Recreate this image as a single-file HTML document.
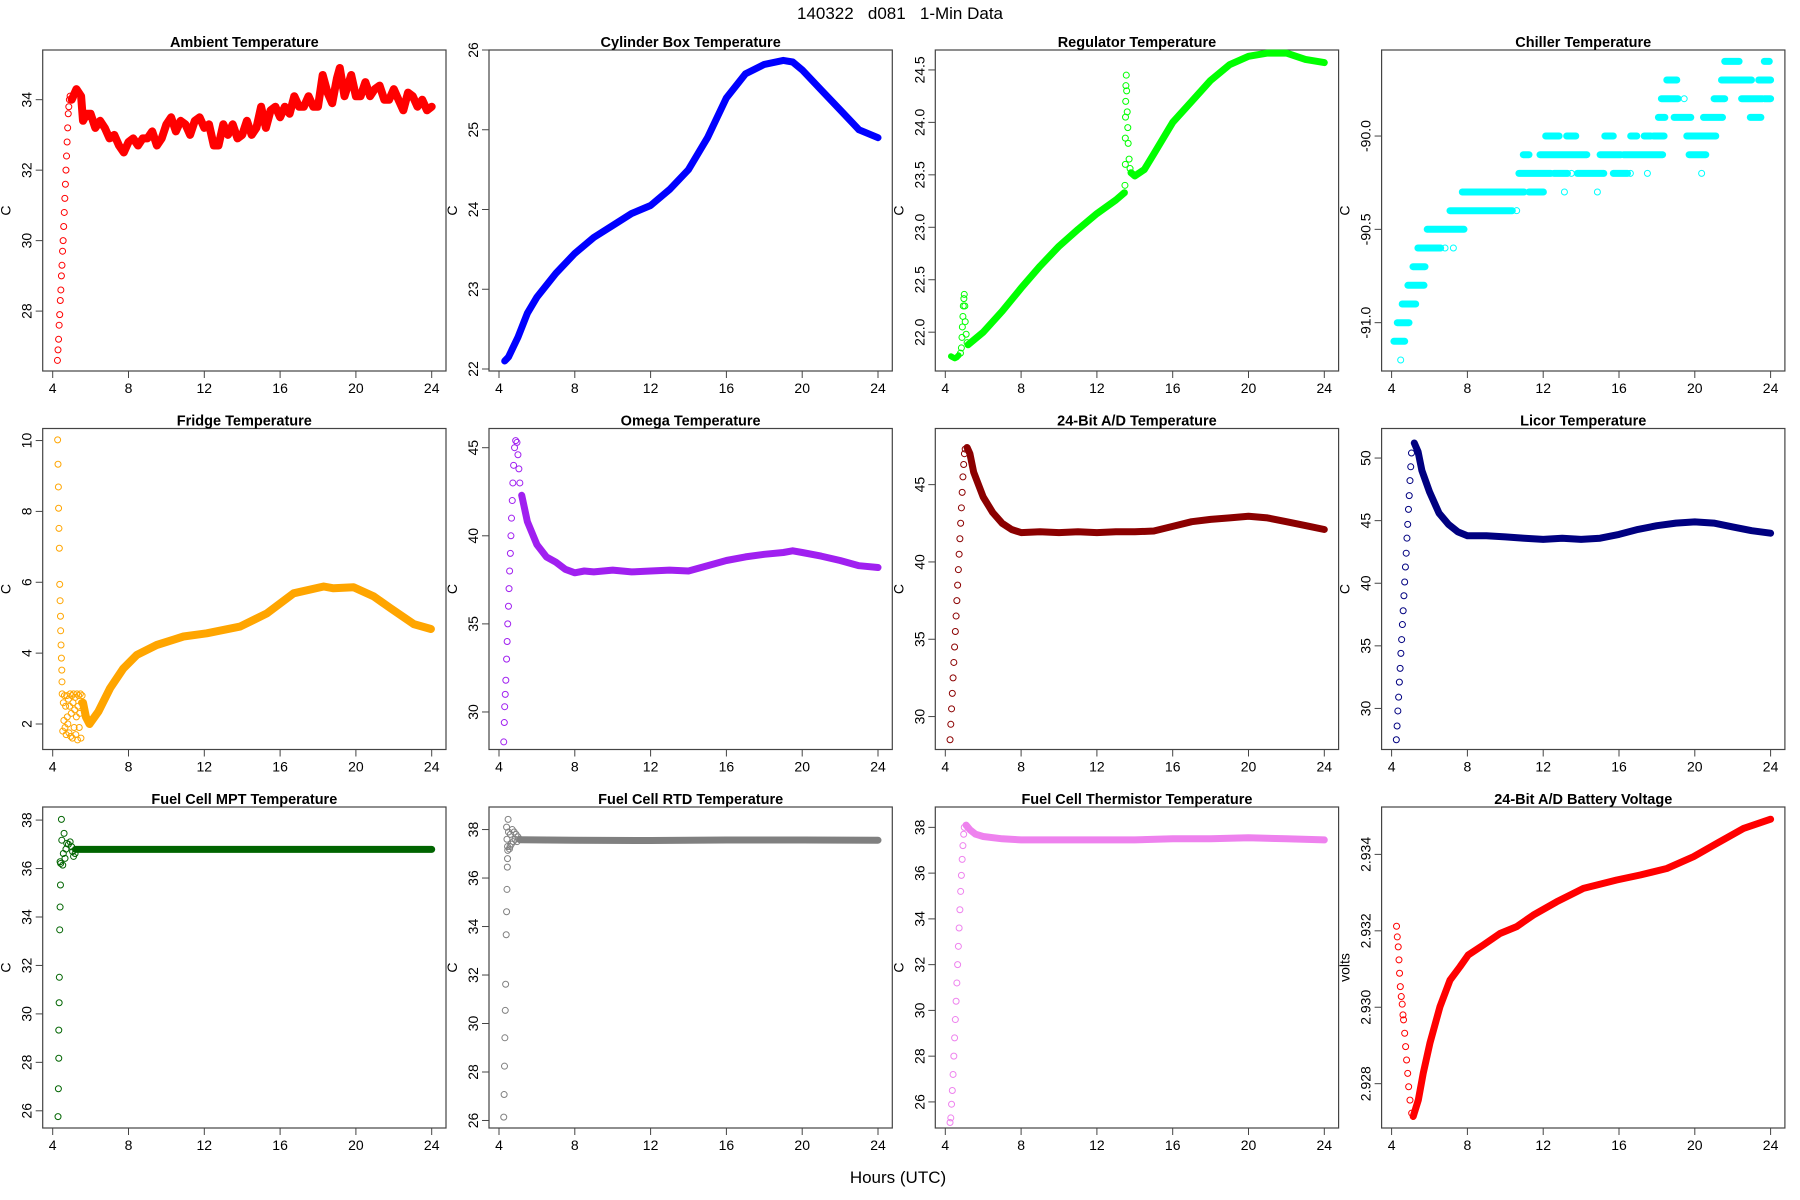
<!DOCTYPE html>
<html><head><meta charset="utf-8"><title>140322 d081 1-Min Data</title>
<style>
html,body{margin:0;padding:0;background:#fff;}
svg{display:block;font-family:"Liberation Sans",sans-serif;}
</style></head>
<body>
<svg id="chart" width="1800" height="1200" viewBox="0 0 1800 1200" xmlns="http://www.w3.org/2000/svg">
<text x="900" y="19" font-size="17" text-anchor="middle" style="white-space:pre" xml:space="preserve">140322   d081   1-Min Data</text>
<text x="898" y="1183" font-size="17" text-anchor="middle">Hours (UTC)</text>
</svg>
<script>
// ---------- data ----------
const xTicks=[4,8,12,16,20,24];
const xTickLabels=["4","8","12","16","20","24"];

const ambRampX=[4.25,4.28,4.31,4.34,4.37,4.40,4.43,4.46,4.49,4.52,4.55,4.58,4.61,4.64,4.67,4.70,4.73,4.76,4.79,4.82,4.85,4.88,4.92];
const ambRampY=[26.6,26.9,27.2,27.6,27.9,28.3,28.6,29.0,29.3,29.7,30.0,30.4,30.8,31.2,31.6,32.0,32.4,32.8,33.2,33.6,33.8,34.0,34.1];
const ambMainX=[5.0,5.25,5.5,5.6,5.8,6.0,6.25,6.5,6.75,7.0,7.25,7.5,7.75,8.0,8.25,8.5,8.75,9.0,9.25,9.5,9.75,10.0,10.25,10.5,10.75,11.0,11.25,11.5,11.75,12.0,12.25,12.5,12.75,13.0,13.25,13.5,13.75,14.0,14.25,14.5,14.75,15.0,15.25,15.5,15.75,16.0,16.25,16.5,16.75,17.0,17.25,17.5,17.75,18.0,18.25,18.5,18.75,19.0,19.15,19.4,19.75,20.0,20.25,20.5,20.75,21.0,21.25,21.5,21.75,22.0,22.25,22.5,22.75,23.0,23.25,23.5,23.75,24.0];
const ambMainY=[34.0,34.3,34.1,33.4,33.6,33.6,33.2,33.4,33.2,32.9,33.0,32.7,32.5,32.8,32.9,32.7,32.9,32.9,33.1,32.7,32.9,33.3,33.5,33.1,33.4,33.3,33.0,33.4,33.5,33.2,33.3,32.7,32.7,33.3,33.0,33.3,32.9,33.0,33.4,33.0,33.2,33.8,33.2,33.7,33.8,33.5,33.8,33.6,34.1,33.8,33.8,34.1,33.8,33.8,34.7,34.2,33.9,34.6,34.9,34.1,34.7,34.1,34.1,34.5,34.1,34.3,34.4,34.0,34.0,34.3,34.0,33.7,34.2,34.1,33.8,34.0,33.7,33.8];

const cylX=[4.3,4.5,5,5.5,6,7,8,9,10,11,12,13,14,15,16,17,18,19,19.5,20,21,22,23,24];
const cylY=[22.1,22.15,22.4,22.7,22.9,23.2,23.45,23.65,23.8,23.95,24.05,24.25,24.5,24.9,25.4,25.7,25.82,25.87,25.85,25.75,25.5,25.25,25.0,24.9];

const regEarlyX=[4.3,4.4,4.5,4.6,4.7];
const regEarlyY=[21.77,21.76,21.75,21.76,21.78];
const regSpikeX=[4.8,4.85,4.88,4.9,4.93,4.95,4.98,5.0,5.03,5.05,5.1,5.15];
const regSpikeY=[21.8,21.85,21.95,22.05,22.15,22.25,22.32,22.36,22.25,22.1,21.98,21.9];
const regMain1X=[5.2,6,7,8,9,10,11,12,13,13.45];
const regMain1Y=[21.88,22.0,22.2,22.42,22.63,22.82,22.98,23.13,23.26,23.33];
const regJumpX=[13.48,13.5,13.5,13.51,13.52,13.53,13.55,13.57,13.6,13.63,13.65,13.7,13.75];
const regJumpY=[23.4,23.6,23.85,24.05,24.2,24.35,24.45,24.3,24.1,23.95,23.8,23.65,23.56];
const regMain2X=[13.8,14,14.5,15,16,17,18,19,20,21,22,23,24];
const regMain2Y=[23.52,23.49,23.55,23.7,24.0,24.2,24.4,24.55,24.63,24.66,24.66,24.6,24.57];

const chRunStart=[4.12,4.30,4.56,4.86,5.13,5.39,5.88,7.08,7.73,11.25,10.72,12.57,13.8,15.7,10.95,11.83,15.0,16.24,19.7,12.13,13.24,15.25,16.62,17.33,17.82,19.58,18.08,18.91,20.46,22.93,18.24,21.02,22.47,23.67,18.52,21.41,23.37,21.58,23.67];
const chRunEnd=[4.69,4.92,5.27,5.71,5.76,6.59,7.82,10.37,10.99,12.01,12.40,13.28,15.2,16.45,11.25,14.3,16.1,18.3,20.58,12.84,13.72,15.7,16.94,17.68,18.38,21.11,18.42,19.79,21.46,23.49,19.12,21.58,23.58,24.0,19.05,22.99,24.0,22.34,23.93];
const chRunLevel=[-91.1,-91.0,-90.9,-90.8,-90.7,-90.6,-90.5,-90.4,-90.3,-90.3,-90.2,-90.2,-90.2,-90.2,-90.1,-90.1,-90.1,-90.1,-90.1,-90.0,-90.0,-90.0,-90.0,-90.0,-90.0,-90.0,-89.9,-89.9,-89.9,-89.9,-89.8,-89.8,-89.8,-89.8,-89.7,-89.7,-89.7,-89.6,-89.6];
const chSingleX=[4.48,6.82,7.26,10.6,13.12,14.86,13.49,16.6,17.5,20.36,19.44];
const chSingleY=[-91.2,-90.6,-90.6,-90.4,-90.3,-90.3,-90.2,-90.2,-90.2,-90.2,-89.8];

const frRampX=[4.26,4.28,4.30,4.31,4.33,4.35,4.37,4.39,4.41,4.42,4.44,4.46,4.48,4.49];
const frRampY=[10.02,9.33,8.69,8.09,7.52,6.96,5.94,5.48,5.04,4.63,4.23,3.86,3.52,3.19];
const frNoiseX=[4.50,4.53,4.56,4.59,4.62,4.65,4.68,4.71,4.74,4.77,4.80,4.83,4.86,4.89,4.92,4.95,4.98,5.01,5.04,5.07,5.10,5.13,5.16,5.19,5.22,5.25,5.28,5.31,5.34,5.37,5.40,5.43,5.46,5.49,5.52,5.55];
const frNoiseY=[2.85,1.8,2.6,2.1,2.8,1.9,2.5,1.7,2.8,2.2,2.0,2.7,1.75,2.5,2.85,1.65,2.3,2.8,1.6,2.6,2.85,1.9,2.4,2.75,1.7,2.2,2.85,1.55,2.5,2.8,1.9,2.3,2.85,1.6,2.6,2.8];
const frMainX=[5.6,5.75,5.94,6.41,7.03,7.73,8.44,9.49,10.9,12.13,13.89,15.3,16.71,18.3,18.82,19.88,20.94,21.82,23.05,23.96];
const frMainY=[2.6,2.2,2.0,2.35,3.01,3.57,3.95,4.23,4.47,4.56,4.75,5.12,5.69,5.88,5.83,5.86,5.6,5.27,4.82,4.68];

const omRampX=[4.25,4.28,4.30,4.33,4.36,4.40,4.43,4.46,4.50,4.53,4.56,4.60,4.63,4.66,4.70,4.73,4.77,4.82,4.88,4.95,5.0,5.05,5.1];
const omRampY=[28.3,29.4,30.3,31.0,31.8,33.0,34.0,35.0,36.0,37.0,38.0,39.0,40.0,41.0,42.0,43.0,44.0,45.0,45.4,45.3,44.6,43.8,43.0];
const omMainX=[5.2,5.5,6,6.5,7,7.5,8,8.5,9,10,11,12,13,14,15,16,17,18,19,19.5,20,21,22,23,24];
const omMainY=[42.3,40.8,39.5,38.8,38.5,38.1,37.9,38.0,37.95,38.05,37.95,38.0,38.05,38.0,38.3,38.6,38.8,38.95,39.05,39.15,39.05,38.85,38.6,38.3,38.2];

const adRampX=[4.25,4.29,4.33,4.37,4.41,4.45,4.49,4.53,4.57,4.61,4.65,4.69,4.73,4.77,4.81,4.85,4.89,4.93,4.97,5.01,5.05];
const adRampY=[28.5,29.5,30.5,31.5,32.5,33.5,34.5,35.5,36.5,37.5,38.5,39.5,40.5,41.5,42.5,43.5,44.5,45.5,46.3,47.0,47.3];
const adMainX=[5.15,5.3,5.5,6,6.5,7,7.5,8,9,10,11,12,13,14,15,16,17,18,19,20,21,22,23,24];
const adMainY=[47.4,47.0,45.8,44.2,43.2,42.5,42.1,41.9,41.95,41.9,41.95,41.9,41.95,41.95,42.0,42.3,42.6,42.75,42.85,42.95,42.85,42.6,42.35,42.1];

const liRampX=[4.25,4.29,4.33,4.37,4.41,4.45,4.49,4.53,4.57,4.61,4.65,4.69,4.73,4.77,4.81,4.85,4.89,4.93,4.97,5.01,5.05];
const liRampY=[27.5,28.6,29.8,30.9,32.1,33.2,34.4,35.5,36.7,37.8,39.0,40.1,41.3,42.4,43.6,44.7,45.9,47.0,48.2,49.3,50.4];
const liMainX=[5.2,5.4,5.6,6,6.5,7,7.5,8,9,10,11,12,13,14,15,16,17,18,19,20,21,22,23,24];
const liMainY=[51.2,50.5,49.0,47.3,45.6,44.7,44.1,43.8,43.8,43.7,43.6,43.5,43.6,43.5,43.6,43.9,44.3,44.6,44.8,44.9,44.8,44.5,44.2,44.0];

const mptRampX=[4.28,4.30,4.32,4.32,4.34,4.35,4.37,4.39,4.41,4.42,4.46];
const mptRampY=[25.76,26.91,28.17,29.33,30.46,31.51,33.47,34.41,35.32,36.21,38.03];
const mptNoiseX=[4.6,4.48,4.39,4.56,4.74,4.65,4.92,5.0,5.1,5.18,4.83,4.53,4.7,5.05];
const mptNoiseY=[37.45,37.17,36.28,36.62,37.04,36.42,37.1,36.9,36.5,36.62,37.0,36.14,36.8,36.7];
const mptMainX=[5.2,8,12,16,20,24];
const mptMainY=[36.79,36.79,36.79,36.79,36.79,36.79];

const rtdRampX=[4.25,4.27,4.29,4.31,4.33,4.35,4.38,4.40,4.42,4.44,4.45,4.46,4.48];
const rtdRampY=[26.14,27.07,28.24,29.41,30.54,31.62,33.66,34.61,35.53,36.45,36.8,37.14,38.42];
const rtdNoiseX=[4.4,4.45,4.5,4.55,4.6,4.65,4.7,4.75,4.8,4.85,4.9,4.95,5.0,5.1,4.42,4.58];
const rtdNoiseY=[38.1,37.3,37.9,37.2,37.8,37.4,38.0,37.5,37.9,37.6,37.8,37.5,37.7,37.6,37.6,37.3];
const rtdMainX=[5.1,8,12,16,20,24];
const rtdMainY=[37.58,37.56,37.55,37.57,37.57,37.56];

const thRampX=[4.25,4.29,4.33,4.37,4.41,4.45,4.49,4.53,4.57,4.61,4.65,4.69,4.73,4.77,4.81,4.85,4.89,4.93,4.97,5.0];
const thRampY=[25.1,25.3,25.9,26.5,27.2,28.0,28.8,29.6,30.4,31.2,32.0,32.8,33.6,34.4,35.2,35.9,36.6,37.2,37.7,38.0];
const thMainX=[5.1,5.3,5.6,6,7,8,10,12,14,16,18,20,22,24];
const thMainY=[38.1,37.9,37.7,37.6,37.5,37.45,37.45,37.45,37.45,37.5,37.5,37.55,37.5,37.45];

const batRampX=[4.26,4.30,4.35,4.39,4.42,4.46,4.51,4.56,4.60,4.63,4.69,4.74,4.79,4.85,4.90,4.97,5.06];
const batRampY=[2.93212,2.93184,2.93158,2.93124,2.93089,2.93054,2.93028,2.93008,2.92980,2.92967,2.92932,2.92897,2.92862,2.92827,2.92792,2.92757,2.92723];
const batMainX=[5.14,5.41,5.67,6.02,6.55,7.08,7.61,8.05,8.84,9.72,10.60,11.48,12.71,14.12,15.88,17.12,18.52,19.93,21.17,22.57,24.0];
const batMainY=[2.92714,2.92757,2.92827,2.92906,2.93001,2.93071,2.93106,2.93137,2.93163,2.93193,2.93211,2.93241,2.93276,2.93311,2.93333,2.93346,2.93363,2.93394,2.93429,2.93468,2.93492];

const ambTicks=[28,30,32,34], ambTickLabels=["28","30","32","34"];
const cylTicks=[22,23,24,25,26], cylTickLabels=["22","23","24","25","26"];
const regTicks=[22,22.5,23,23.5,24,24.5], regTickLabels=["22.0","22.5","23.0","23.5","24.0","24.5"];
const chTicks=[-91,-90.5,-90], chTickLabels=["-91.0","-90.5","-90.0"];
const frTicks=[2,4,6,8,10], frTickLabels=["2","4","6","8","10"];
const omTicks=[30,35,40,45], omTickLabels=["30","35","40","45"];
const adTicks=[30,35,40,45], adTickLabels=["30","35","40","45"];
const liTicks=[30,35,40,45,50], liTickLabels=["30","35","40","45","50"];
const fcTicks=[26,28,30,32,34,36,38], fcTickLabels=["26","28","30","32","34","36","38"];
const batTicks=[2.928,2.930,2.932,2.934], batTickLabels=["2.928","2.930","2.932","2.934"];

// ---------- drawing ----------
const NS="http://www.w3.org/2000/svg";
const svg=document.getElementById('chart');
const PW=403.3, PH=321;
function el(tag,parent){const e=document.createElementNS(NS,tag);(parent||svg).appendChild(e);return e;}
function sx(p,h){return p.L+10+(h-4)*18.95;}
function sy(p,v){return p.T+(p.ymax-v)/(p.ymax-p.ymin)*PH;}

function panel(col,row,title,ylab,ymin,ymax,ticks,tickLabels,key){
  const p={L:42.7+col*446.3,T:50+row*378.5,ymin:ymin,ymax:ymax};
  const g=el('g');
  
  
  p.g=g;
  const r=el('rect',g);
  
  
  r.setAttribute('x',p.L);r.setAttribute('y',p.T);r.setAttribute('width',PW);r.setAttribute('height',PH);
  r.setAttribute('fill','none');r.setAttribute('stroke','#444');r.setAttribute('stroke-width','1.2');
  const t=el('text',g);
  
  
  t.setAttribute('x',p.L+PW/2);t.setAttribute('y',p.T-3);t.setAttribute('font-size','14.5');
  t.setAttribute('font-weight','bold');t.setAttribute('text-anchor','middle');t.textContent=title;
  const yl=el('text',g);
  
  
  const ylx=p.L-32, yly=p.T+PH/2;
  yl.setAttribute('x',ylx);yl.setAttribute('y',yly);yl.setAttribute('font-size','14');
  yl.setAttribute('text-anchor','middle');yl.setAttribute('transform','rotate(-90 '+ylx+' '+yly+')');yl.textContent=ylab;
  xTicks.forEach(function(h,i){
    const x=sx(p,h);
    const ln=el('line',g);
    
    
    ln.setAttribute('x1',x);ln.setAttribute('x2',x);ln.setAttribute('y1',p.T+PH);ln.setAttribute('y2',p.T+PH+7);
    ln.setAttribute('stroke','#444');
    const tx=el('text',g);
    
    
    tx.setAttribute('x',x);tx.setAttribute('y',p.T+PH+22);tx.setAttribute('font-size','14');tx.setAttribute('text-anchor','middle');
    tx.textContent=xTickLabels[i];
  });
  ticks.forEach(function(v,i){
    const y=sy(p,v);
    const ln=el('line',g);
    
    
    ln.setAttribute('x1',p.L-7);ln.setAttribute('x2',p.L);ln.setAttribute('y1',y);ln.setAttribute('y2',y);
    ln.setAttribute('stroke','#444');
    const tx=el('text',g);
    
    
    const lx=p.L-11;
    tx.setAttribute('x',lx);tx.setAttribute('y',y);tx.setAttribute('font-size','14');tx.setAttribute('text-anchor','middle');
    tx.setAttribute('transform','rotate(-90 '+lx+' '+y+')');
    tx.textContent=tickLabels[i];
  });
  return p;
}
function points(p,xs,ys,color,key){
  for(let i=0;i<xs.length;i++){
    const c=el('circle',p.g);
    
    
    c.setAttribute('cx',sx(p,xs[i]));c.setAttribute('cy',sy(p,ys[i]));c.setAttribute('r','3');
    c.setAttribute('fill','none');c.setAttribute('stroke',color);c.setAttribute('stroke-width','1');
  }
}
function band(p,xs,ys,color,key,w){
  let d='';
  for(let i=0;i<xs.length;i++){d+=(i?'L':'M')+sx(p,xs[i]).toFixed(1)+' '+sy(p,ys[i]).toFixed(1);}
  const path=el('path',p.g);
  
  
  path.setAttribute('d',d);path.setAttribute('fill','none');path.setAttribute('stroke',color);
  path.setAttribute('stroke-width',w||7);path.setAttribute('stroke-linecap','round');path.setAttribute('stroke-linejoin','round');
}

let p;
p=panel(0,0,'Ambient Temperature','C',26.30,35.41,ambTicks,ambTickLabels,'ambient');
points(p,ambRampX,ambRampY,'#ff0000','ambient');band(p,ambMainX,ambMainY,'#ff0000','ambient',8);

p=panel(1,0,'Cylinder Box Temperature','C',21.975,26.0,cylTicks,cylTickLabels,'cylinder');
band(p,cylX,cylY,'#0000ff','cylinder',7);

p=panel(2,0,'Regulator Temperature','C',21.63,24.69,regTicks,regTickLabels,'regulator');
band(p,regEarlyX,regEarlyY,'#00ff00','regulator',6);points(p,regSpikeX,regSpikeY,'#00ff00','regulator');
band(p,regMain1X,regMain1Y,'#00ff00','regulator',7);points(p,regJumpX,regJumpY,'#00ff00','regulator');
band(p,regMain2X,regMain2Y,'#00ff00','regulator',7);

p=panel(3,0,'Chiller Temperature','C',-91.259,-89.539,chTicks,chTickLabels,'chiller');
for(let i=0;i<chRunStart.length;i++){band(p,[chRunStart[i],chRunEnd[i]],[chRunLevel[i],chRunLevel[i]],'#00ffff','chiller',7);}
points(p,chSingleX,chSingleY,'#00ffff','chiller');

p=panel(0,1,'Fridge Temperature','C',1.28,10.34,frTicks,frTickLabels,'fridge');
points(p,frRampX,frRampY,'#ffa500','fridge');points(p,frNoiseX,frNoiseY,'#ffa500','fridge');
band(p,frMainX,frMainY,'#ffa500','fridge',8);

p=panel(1,1,'Omega Temperature','C',27.87,46.09,omTicks,omTickLabels,'omega');
points(p,omRampX,omRampY,'#a020f0','omega');band(p,omMainX,omMainY,'#a020f0','omega',7);

p=panel(2,1,'24-Bit A/D Temperature','C',27.87,48.63,adTicks,adTickLabels,'ad-temp');
points(p,adRampX,adRampY,'#8b0000','ad-temp');band(p,adMainX,adMainY,'#8b0000','ad-temp',7);

p=panel(3,1,'Licor Temperature','C',26.72,52.36,liTicks,liTickLabels,'licor');
points(p,liRampX,liRampY,'#000080','licor');band(p,liMainX,liMainY,'#000080','licor',7);

p=panel(0,2,'Fuel Cell MPT Temperature','C',25.29,38.54,fcTicks,fcTickLabels,'fuel-mpt');
points(p,mptRampX,mptRampY,'#006400','fuel-mpt');points(p,mptNoiseX,mptNoiseY,'#006400','fuel-mpt');
band(p,mptMainX,mptMainY,'#006400','fuel-mpt',7);

p=panel(1,2,'Fuel Cell RTD Temperature','C',25.69,38.93,fcTicks,fcTickLabels,'fuel-rtd');
points(p,rtdRampX,rtdRampY,'#808080','fuel-rtd');points(p,rtdNoiseX,rtdNoiseY,'#808080','fuel-rtd');
band(p,rtdMainX,rtdMainY,'#808080','fuel-rtd',7);

p=panel(2,2,'Fuel Cell Thermistor Temperature','C',24.86,38.89,fcTicks,fcTickLabels,'fuel-thermistor');
points(p,thRampX,thRampY,'#ee82ee','fuel-thermistor');band(p,thMainX,thMainY,'#ee82ee','fuel-thermistor',7);

p=panel(3,2,'24-Bit A/D Battery Voltage','volts',2.92684,2.93524,batTicks,batTickLabels,'battery');
points(p,batRampX,batRampY,'#ff0000','battery');band(p,batMainX,batMainY,'#ff0000','battery',7);
</script>
</body></html>
